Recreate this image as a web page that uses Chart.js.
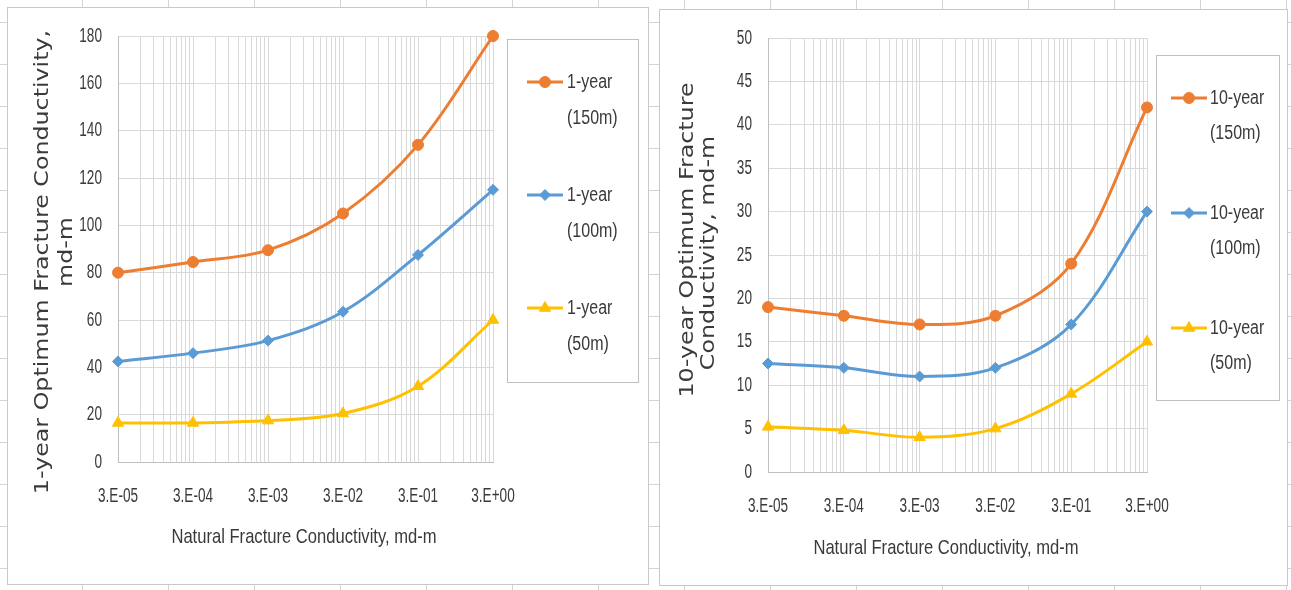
<!DOCTYPE html>
<html>
<head>
<meta charset="utf-8">
<title>Optimum Fracture Conductivity</title>
<script src="https://cdn.jsdelivr.net/npm/chart.js@4.4.1/dist/chart.umd.min.js"></script>
<style>
  html, body { margin: 0; padding: 0; }
  body {
    width: 1291px; height: 590px; overflow: hidden; position: relative;
    background-color: #fff;
    background-image: linear-gradient(to right, #d4d4d4 1px, transparent 1px),
                      linear-gradient(to bottom, #d4d4d4 1px, transparent 1px);
    background-size: 86px 42px;
    background-position: 82px 22px;
  }
  .panel { position: absolute; box-sizing: border-box; border: 1px solid #c8c8c8; background: #fff; }
  .panel canvas { display: block; }
</style>
</head>
<body>
<div class="panel" style="left:7px;top:7px;width:642px;height:578px">
  <canvas id="oneYearChart" width="640" height="576"></canvas>
</div>
<div class="panel" style="left:659px;top:9px;width:629px;height:577px">
  <canvas id="tenYearChart" width="627" height="575"></canvas>
</div>
<script>
const xValues = [3e-5, 3e-4, 3e-3, 3e-2, 3e-1, 3];
const xTickLabels = ['3.E-05', '3.E-04', '3.E-03', '3.E-02', '3.E-01', '3.E+00'];

const oneYearLabels = ['1-year (150m)', '1-year (100m)', '1-year (50m)'];
const oneYear150 = [80, 84.5, 89.5, 105, 134, 180];
const oneYear100 = [42.5, 46, 51.3, 63.5, 87.5, 115];
const oneYear50 = [16.5, 16.5, 17.5, 20.5, 32, 60];

const tenYearLabels = ['10-year (150m)', '10-year (100m)', '10-year (50m)'];
const tenYear150 = [19, 18, 17, 18, 24, 42];
const tenYear100 = [12.5, 12, 11, 12, 17, 30];
const tenYear50 = [5.2, 4.8, 4, 5, 9, 15];

const seriesColors = ['#ED7D31', '#5B9BD5', '#FFC000'];
const markerStyles = ['circle', 'rectRot', 'triangle'];
const markerSizes = [5.5, 5.5, 6.5];
const textColor = '#3a3a3a';
const gridColor = '#d9d9d9';
const axisColor = '#bfbfbf';
const TICK_SQUEEZE = 0.68;

// log axis: gridline at every 3e-n plus k*3e-n in between
const xGridValues = [];
xValues.forEach((v, i) => {
  xGridValues.push(v);
  if (i < xValues.length - 1) {
    for (let k = 2; k <= 9; k++) xGridValues.push(v * k);
  }
});

// narrow/tall text, the canvas has no condensed face for it
const narrowText = {
  id: 'narrowText',
  beforeInit(chart) {
    const ctx = chart.ctx;
    const fill = ctx.fillText;
    ctx.squeeze = TICK_SQUEEZE;
    ctx.fillText = function (text, x, y) {
      this.save();
      this.translate(x, y);
      this.scale(this.squeeze, 1);
      fill.call(this, text, 0, 0);
      this.restore();
    };
  }
};

// axis titles and the boxed legend on the right
const chartDecor = {
  id: 'chartDecor',
  afterDraw(chart, args, opts) {
    const ctx = chart.ctx;
    ctx.save();
    ctx.fillStyle = textColor;
    ctx.textAlign = 'center';
    ctx.textBaseline = 'middle';

    ctx.font = '21px "Liberation Sans"';
    ctx.squeeze = 0.79;
    ctx.fillText(opts.xTitle, opts.xTitleAt[0], opts.xTitleAt[1]);

    ctx.font = '19px "DejaVu Sans"';
    ctx.squeeze = 1.25;
    opts.yTitle.forEach((line, i) => {
      ctx.save();
      ctx.translate(opts.yTitleX[i], opts.yTitleY[i]);
      ctx.rotate(-Math.PI / 2);
      ctx.fillText(line, 0, 0);
      ctx.restore();
    });

    const lg = opts.legend;
    ctx.strokeStyle = axisColor;
    ctx.lineWidth = 1;
    ctx.strokeRect(lg.left + 0.5, lg.top + 0.5, lg.width, lg.height);

    ctx.font = '20px "Liberation Sans"';
    ctx.textAlign = 'left';
    ctx.squeeze = 0.8;
    chart.data.datasets.forEach((ds, i) => {
      const y = lg.firstRow + i * lg.rowStep;
      ctx.strokeStyle = ds.borderColor;
      ctx.lineWidth = 3;
      ctx.beginPath();
      ctx.moveTo(lg.lineFrom, y);
      ctx.lineTo(lg.lineTo, y);
      ctx.stroke();
      ctx.fillStyle = ds.backgroundColor;
      ctx.lineWidth = 1;
      Chart.helpers.drawPoint(ctx, {
        pointStyle: ds.pointStyle, radius: ds.pointRadius, rotation: 0, borderWidth: 1
      }, (lg.lineFrom + lg.lineTo) / 2, y);
      ctx.fillStyle = textColor;
      ds.label.split(' ').forEach((part, j) => ctx.fillText(part, lg.textX, y + j * lg.lineGap));
    });
    ctx.squeeze = TICK_SQUEEZE;
    ctx.restore();
  }
};

function xLabel(value) {
  const i = xValues.findIndex(v => Math.abs(v - value) / v < 1e-6);
  return i >= 0 ? xTickLabels[i] : '';
}

function makeChart(id, labels, series, yMax, yStep, box, decor) {
  const datasets = series.map((values, i) => ({
    label: labels[i],
    data: xValues.map((x, j) => ({ x: x, y: values[j] })),
    borderColor: seriesColors[i],
    backgroundColor: seriesColors[i],
    borderWidth: 3,
    pointStyle: markerStyles[i],
    pointRadius: markerSizes[i],
    pointBorderWidth: 1,
    tension: 0.35,
    clip: false
  }));

  return new Chart(id, {
    type: 'line',
    data: { datasets: datasets },
    plugins: [narrowText, chartDecor],
    options: {
      responsive: false,
      animation: false,
      devicePixelRatio: 1,
      layout: { autoPadding: false, padding: { left: 0, top: box.top, right: box.right, bottom: 0 } },
      font: { family: '"Liberation Sans"', size: 20 },
      scales: {
        x: {
          type: 'logarithmic',
          min: xValues[0],
          max: xValues[xValues.length - 1],
          afterBuildTicks: (scale) => { scale.ticks = xGridValues.map(v => ({ value: v })); },
          afterFit: (scale) => { scale.height = box.xAxisHeight; },
          ticks: {
            autoSkip: false, maxRotation: 0, minRotation: 0, padding: 22,
            color: textColor, font: { family: '"Liberation Sans"', size: 20 },
            callback: xLabel
          },
          grid: { color: gridColor, drawTicks: false },
          border: { color: axisColor }
        },
        y: {
          min: 0,
          max: yMax,
          afterFit: (scale) => { scale.width = box.yAxisWidth; },
          ticks: {
            stepSize: yStep, padding: 16, color: textColor,
            font: { family: '"Liberation Sans"', size: 20 }
          },
          grid: { color: gridColor, drawTicks: false },
          border: { color: axisColor }
        }
      },
      plugins: {
        legend: { display: false },
        tooltip: { enabled: false },
        chartDecor: decor
      }
    }
  });
}

makeChart('oneYearChart', oneYearLabels, [oneYear150, oneYear100, oneYear50], 180, 20,
  { top: 27, right: 155, yAxisWidth: 110, xAxisHeight: 122 },
  {
    xTitle: 'Natural Fracture Conductivity, md-m',
    xTitleAt: [296, 529],
    yTitle: ['1-year Optimum Fracture Conductivity,', 'md-m'],
    yTitleX: [35, 59],
    yTitleY: [254, 244],
    legend: { left: 499, top: 31, width: 131, height: 343, lineFrom: 519, lineTo: 555, textX: 559, firstRow: 74, rowStep: 113, lineGap: 36 }
  });

makeChart('tenYearChart', tenYearLabels, [tenYear150, tenYear100, tenYear50], 50, 5,
  { top: 27, right: 140, yAxisWidth: 108, xAxisHeight: 113 },
  {
    xTitle: 'Natural Fracture Conductivity, md-m',
    xTitleAt: [286, 538],
    yTitle: ['10-year Optimum Fracture', 'Conductivity, md-m'],
    yTitleX: [28, 49],
    yTitleY: [230, 243],
    legend: { left: 496, top: 45, width: 123, height: 345, lineFrom: 511, lineTo: 547, textX: 550, firstRow: 88, rowStep: 115, lineGap: 35 }
  });
</script>
</body>
</html>
